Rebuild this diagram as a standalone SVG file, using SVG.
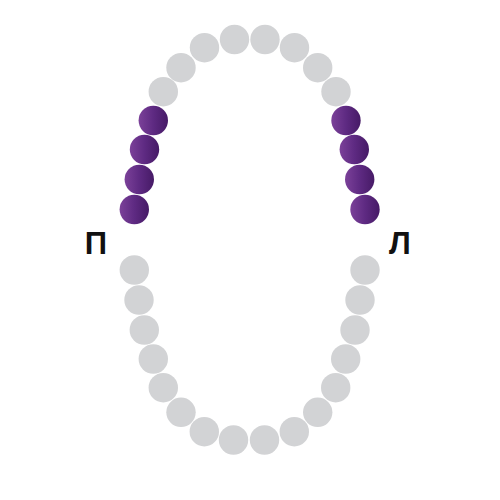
<svg xmlns="http://www.w3.org/2000/svg" width="500" height="500" viewBox="0 0 500 500">
<defs>
<linearGradient id="pg" x1="0" y1="0" x2="1" y2="0">
<stop offset="0" stop-color="#7b4199"/>
<stop offset="0.5" stop-color="#5e2a82"/>
<stop offset="1" stop-color="#461a66"/>
</linearGradient>
<style>
.g{fill:#d2d3d5}
.p{fill:url(#pg)}
.lbl{font-family:"Liberation Sans",Arial,sans-serif;font-weight:bold;font-size:31px;fill:#111}
</style>
</defs>
<rect width="500" height="500" fill="#fff"/>
<g id="upper">
<circle class="g" cx="234.5" cy="39.5" r="14.7"/>
<circle class="g" cx="265" cy="39.5" r="14.7"/>
<circle class="g" cx="204.5" cy="47.7" r="14.7"/>
<circle class="g" cx="294.5" cy="47.7" r="14.7"/>
<circle class="g" cx="181" cy="67.7" r="14.7"/>
<circle class="g" cx="317.7" cy="67.7" r="14.7"/>
<circle class="g" cx="163.3" cy="91.7" r="14.7"/>
<circle class="g" cx="336" cy="91.7" r="14.7"/>
<circle class="p" cx="153.3" cy="120.5" r="14.7"/>
<circle class="p" cx="144.5" cy="149.5" r="14.7"/>
<circle class="p" cx="139.3" cy="179.5" r="14.7"/>
<circle class="p" cx="134.3" cy="209.5" r="14.7"/>
<circle class="p" cx="346" cy="120.5" r="14.7"/>
<circle class="p" cx="354.3" cy="149.5" r="14.7"/>
<circle class="p" cx="359.7" cy="179.5" r="14.7"/>
<circle class="p" cx="365" cy="209.5" r="14.7"/>
</g>
<g id="lower">
<circle class="g" cx="134.3" cy="270" r="14.7"/>
<circle class="g" cx="139" cy="300" r="14.7"/>
<circle class="g" cx="144.3" cy="330" r="14.7"/>
<circle class="g" cx="153.3" cy="359" r="14.7"/>
<circle class="g" cx="163.3" cy="387.7" r="14.7"/>
<circle class="g" cx="181" cy="412.3" r="14.7"/>
<circle class="g" cx="204.3" cy="431.7" r="14.7"/>
<circle class="g" cx="233.5" cy="440" r="14.7"/>
<circle class="g" cx="264.5" cy="440" r="14.7"/>
<circle class="g" cx="294.3" cy="431.7" r="14.7"/>
<circle class="g" cx="317.7" cy="412.3" r="14.7"/>
<circle class="g" cx="335.7" cy="387.7" r="14.7"/>
<circle class="g" cx="345.7" cy="359" r="14.7"/>
<circle class="g" cx="355" cy="330" r="14.7"/>
<circle class="g" cx="360" cy="300" r="14.7"/>
<circle class="g" cx="365" cy="270" r="14.7"/>
</g>
<g id="labels">
<text class="lbl" x="96" y="253.5" text-anchor="middle">П</text>
<text class="lbl" x="400" y="253.5" text-anchor="middle">Л</text>
</g>
</svg>
